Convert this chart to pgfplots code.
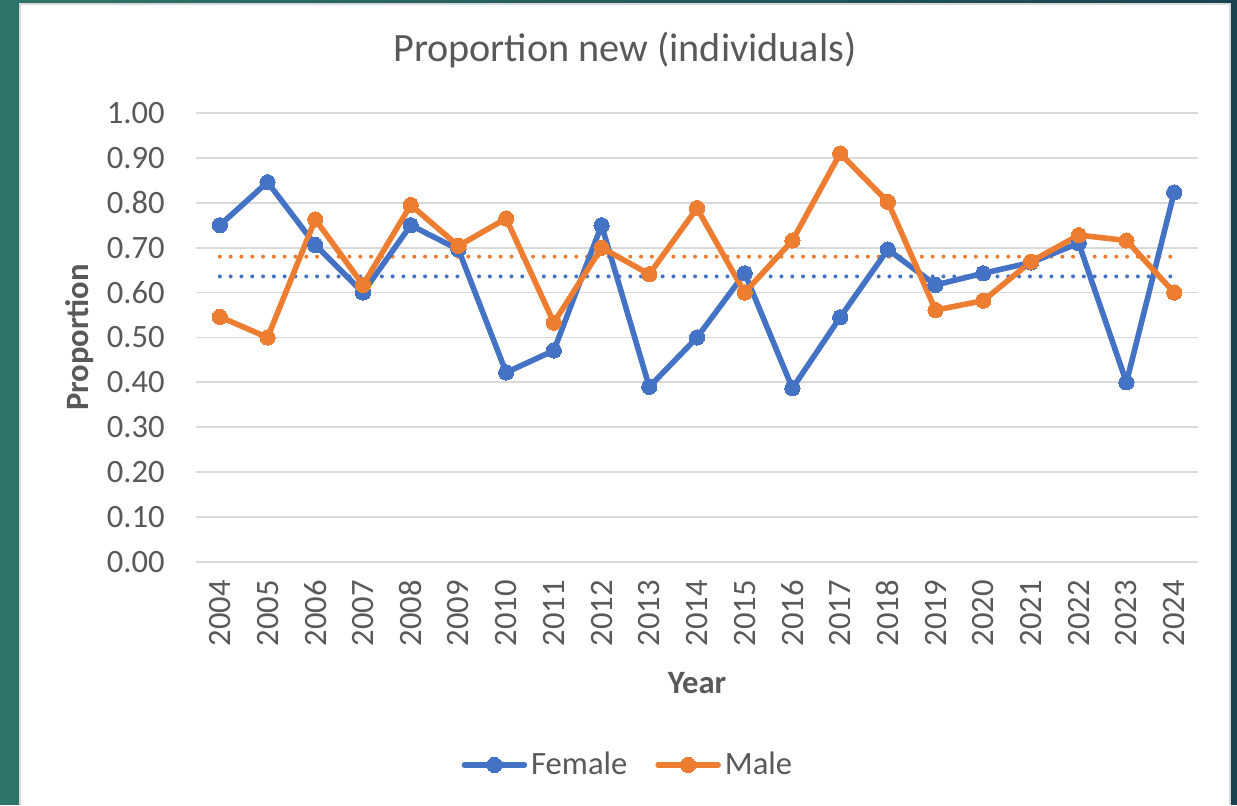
\documentclass[border=0pt]{standalone}
\usepackage{pgfplots}
\pgfplotsset{compat=1.18}
\usepackage{pgfplotstable}
\usepackage{fontspec}
\setmainfont{Carlito}
\definecolor{fblue}{HTML}{4472C4}
\definecolor{morange}{HTML}{ED7D31}
\definecolor{gridc}{HTML}{D9D9D9}
\definecolor{txt}{HTML}{595959}
\definecolor{tealL}{HTML}{2F7468}
\definecolor{tealR}{HTML}{1A4350}
\pgfplotstableread{
x female male
0 0.750 0.546
1 0.846 0.500
2 0.706 0.763
3 0.600 0.617
4 0.750 0.795
5 0.696 0.704
6 0.422 0.765
7 0.471 0.533
8 0.750 0.700
9 0.390 0.641
10 0.500 0.788
11 0.643 0.600
12 0.387 0.716
13 0.545 0.910
14 0.696 0.802
15 0.617 0.561
16 0.643 0.582
17 0.667 0.669
18 0.710 0.728
19 0.400 0.716
20 0.823 0.600
}\datatable
\begin{document}
\begin{tikzpicture}[x=1pt,y=1pt]
\shade[left color=tealL, right color=tealR] (0,0) rectangle (618.5,402.5);
\fill[white] (10,0) rectangle (615,400.5);
\draw[gridc, line width=1pt] (10,0) -- (10,400.5) -- (615,400.5) -- (615,0);
\begin{axis}[
  at={(98pt,121.5pt)}, anchor=south west,
  scale only axis, width=501pt, height=224.5pt,
  xmin=-0.5, xmax=20.5, ymin=0, ymax=1,
  xtick={0,...,20},
  xticklabels={2004,2005,2006,2007,2008,2009,2010,2011,2012,2013,2014,2015,2016,2017,2018,2019,2020,2021,2022,2023,2024},
  ytick={0,0.1,...,1.0},
  yticklabel style={/pgf/number format/fixed, /pgf/number format/fixed zerofill, /pgf/number format/precision=2, inner sep=0pt, anchor=east, xshift=-15.5pt},
  /pgf/number format/assume math mode=true,
  xticklabel style={yshift=-9pt, rotate=90, anchor=east, inner sep=0pt},
  ticklabel style={font=\fontsize{16.3}{19}\selectfont, text=txt},
  axis line style={draw=none},
  tick style={draw=none},
  ymajorgrids,
  major grid style={gridc, line width=0.9pt},
  title={Proportion new (individuals)},
  title style={at={(axis description cs:0.428,1.1136)}, anchor=center, font=\fontsize{20.1}{24}\selectfont, text=txt},
  xlabel={Year},
  xlabel style={at={(axis description cs:0.5,-0.2695)}, anchor=center, font=\bfseries\fontsize{16.3}{19}\selectfont, text=txt},
  ylabel={Proportion},
  ylabel style={at={(axis description cs:-0.1158,0.5)}, anchor=center, font=\bfseries\fontsize{16.3}{19}\selectfont, text=txt},
  legend columns=2,
  legend style={at={(axis description cs:0.432,-0.452)}, anchor=center, draw=none, fill=none, font=\fontsize{16.3}{19}\selectfont, text=txt, /tikz/every even column/.append style={column sep=12pt}},
  legend image code/.code={\draw[mark repeat=2,mark phase=2,line cap=round,#1] plot coordinates {(0pt,0pt) (15pt,0pt) (30pt,0pt)};},
  clip=false,
]
\addplot[forget plot, morange, line width=2pt, line cap=round, dash pattern=on 0pt off 5.4pt] coordinates {(0,0.680) (20,0.680)};
\addplot[forget plot, fblue, line width=2pt, line cap=round, dash pattern=on 0pt off 5.4pt] coordinates {(0,0.636) (20,0.636)};
\addplot[fblue, line width=2.8pt, line join=round, mark=*, mark size=3.8pt, mark options={solid, fill=fblue, draw=fblue, line width=0pt}] table[x=x, y=female] {\datatable};
\addlegendentry{Female}
\addplot[morange, line width=2.8pt, line join=round, mark=*, mark size=3.8pt, mark options={solid, fill=morange, draw=morange, line width=0pt}] table[x=x, y=male] {\datatable};
\addlegendentry{Male}
\end{axis}
\end{tikzpicture}
\end{document}
